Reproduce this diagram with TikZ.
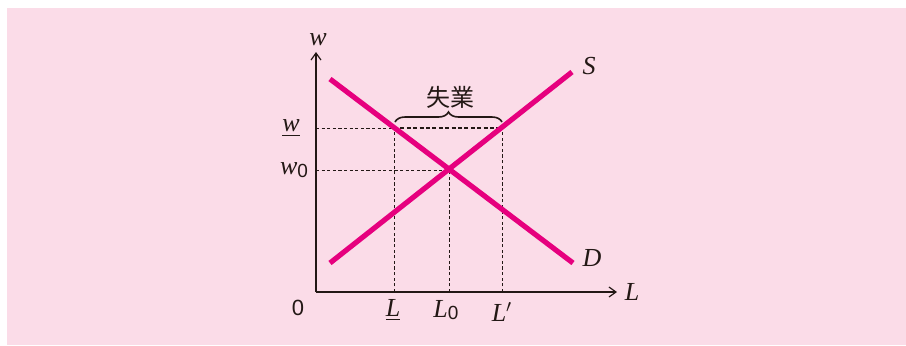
\documentclass[tikz,border=0pt]{standalone}
\usepackage{fontspec}
\setmainfont{Liberation Serif}
\newfontfamily\sfnum{Liberation Sans}
\newfontfamily\cjk{Noto Sans CJK JP}
\usetikzlibrary{arrows.meta,decorations.pathreplacing}
\definecolor{bgpink}{HTML}{FBDCE8}
\definecolor{curve}{HTML}{E6007E}
\definecolor{ink}{HTML}{231815}
\tikzset{
  curveline/.style={draw=curve,line width=2.6pt},
  axisline/.style={draw=ink,line width=0.6pt,-{Straight Barb[length=3.5pt,width=5pt]}},
  guide/.style={draw=ink,line width=0.4pt,dash pattern=on 1.6pt off 1.2pt},
  gap/.style={draw=ink,line width=1.1pt,dash pattern=on 2pt off 1.2pt},
  lab/.style={inner sep=0pt,font=\fontsize{13}{13}\selectfont\itshape,text=ink},
  num/.style={inner sep=0pt,font=\fontsize{11}{11}\selectfont\sfnum,text=ink}
}
\newcommand{\subzero}{\raisebox{-0.1em}{\normalfont\sfnum\fontsize{9.5}{9.5}\selectfont 0}}
\begin{document}
\begin{tikzpicture}[x=0.5pt,y=-0.5pt]
\useasboundingbox (0,0) rectangle (906,345);
\fill[bgpink] (7,8) rectangle (906,345);
% key points
\coordinate (O) at (316,292);
\coordinate (ytop) at (316,52);
\coordinate (xend) at (617,292);
\coordinate (Dtop) at (330,79);
\coordinate (Dbot) at (573,263);
\coordinate (Sbot) at (330,263);
\coordinate (Stop) at (572,72);
\coordinate (E) at (449,170);
\coordinate (A) at (394,128);
\coordinate (B) at (502,128);
\coordinate (wbar) at (316,128);
\coordinate (wzero) at (316,170);
\coordinate (Lbar) at (394,292);
\coordinate (Lzero) at (449,292);
\coordinate (Lprime) at (502,292);
% guides
\draw[guide] (wbar) -- (A);
\draw[guide] (wzero) -- (E);
\draw[guide] (Lbar) -- (A);
\draw[guide] (Lzero) -- (E);
\draw[guide] (Lprime) -- (B);
\draw[gap] (A) -- (B);
% axes
\draw[axisline] (O) -- (ytop);
\draw[axisline] (O) -- (xend);
% curves
\draw[curveline] (Dtop) -- (Dbot);
\draw[curveline] (Sbot) -- (Stop);
% brace
\draw[ink,line width=0.8pt,decorate,decoration={brace,amplitude=5pt}] (395,122) -- (502,122);
\node[inner sep=0pt,font=\fontsize{12}{12}\selectfont\cjk,text=ink] (unemp) at (450,97) {失業};
% labels
\node[lab] (wlab) at (318,40) {w};
\node[lab] (Llab) at (632,292) {L};
\node[lab] (Slab) at (589,66) {S};
\node[lab] (Dlab) at (592,258) {D};
\node[num] (zero) at (298,308) {0};
\node[lab] (wbarlab) at (291,128) {\underline{w}};
\node[lab] (w0lab) at (294,170) {w\subzero};
\node[lab] (Lbarlab) at (393,310) {\underline{L}};
\node[lab] (L0lab) at (446,310) {L\subzero};
\node[lab] (Lplab) at (502,312) {L$'$};
\end{tikzpicture}
\end{document}
